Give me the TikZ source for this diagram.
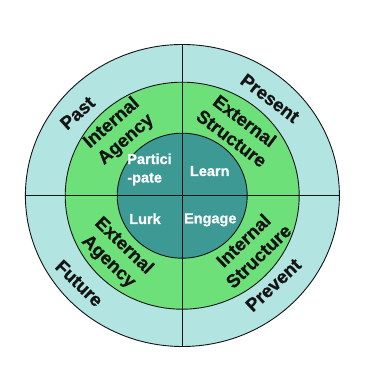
\documentclass[tikz,border=0pt]{standalone}
\usepackage{fontspec}
\setmainfont{Liberation Sans}[BoldFeatures={FakeBold=0.8}]
\usetikzlibrary{shapes.geometric}
\definecolor{ringout}{RGB}{178,229,226}
\definecolor{ringmid}{RGB}{109,224,122}
\definecolor{ringin}{RGB}{60,153,148}
\definecolor{ink}{RGB}{20,20,20}
\begin{document}
\begin{tikzpicture}[x=1pt,y=1pt,
  ring/.style={ellipse,draw=ink,line width=0.9pt,inner sep=0pt},
  divider/.style={draw=ink,line width=0.9pt},
  outerlbl/.style={font=\bfseries\fontsize{18.5}{21.6}\selectfont,text=ink,inner sep=0pt},
  midlbl/.style={font=\bfseries\fontsize{18.5}{21.8}\selectfont,text=ink,align=center,inner sep=0pt},
  innerlbl/.style={font=\bfseries\fontsize{14.5}{18.4}\selectfont,text=white,inner sep=0pt}]
\useasboundingbox (0,0) rectangle (365,366);
\fill[white] (0,0) rectangle (365,366);
\node[ring,fill=ringout,minimum width=314pt,minimum height=302pt] (outer) at (182.4,170.5) {};
\node[ring,fill=ringmid,minimum width=234pt,minimum height=227pt] (mid) at (182.2,170.3) {};
\node[ring,fill=ringin,minimum width=130pt,minimum height=125pt] (inner) at (182.2,170.3) {};
\draw[divider] (outer.west) -- (outer.east);
\draw[divider] (outer.north) -- (outer.south);
% outer ring
\node[outerlbl,rotate=42] (past) at (77.5,253) {Past};
\node[outerlbl,rotate=-37] (present) at (270,267.7) {Present};
\node[outerlbl,rotate=-44] (future) at (79.2,82.7) {Future};
\node[outerlbl,rotate=43] (prevent) at (273.3,81) {Prevent};
% middle ring
\node[midlbl,rotate=41] (ia) at (119,234.5) {Internal\\Agency};
\node[midlbl,rotate=-37] (es) at (238.3,236.5) {External\\Structure};
\node[midlbl,rotate=-44] (ea) at (116,112) {External\\Agency};
\node[midlbl,rotate=44] (is) at (250.8,117.7) {Internal\\Structure};
% inner
\node[innerlbl,align=left] (part) at (149.5,196.5) {Partici\\-pate};
\node[innerlbl,anchor=base] (learn) at (209.7,190) {Learn};
\node[innerlbl,anchor=base] (lurk) at (145,142) {Lurk};
\node[innerlbl,anchor=base] (engage) at (210.3,142.7) {Engage};
\end{tikzpicture}
\end{document}
